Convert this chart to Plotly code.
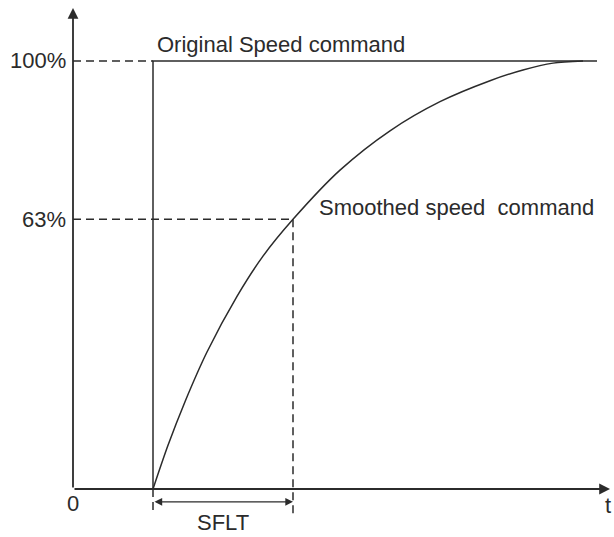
import plotly.graph_objects as go

# Time axis in units of 100 px-equivalents; speed in percent of command
t_step = 0.8            # time at which the original speed command steps to 100 %
sflt = 1.4              # smoothing filter time constant (SFLT)
t_axis_end = 5.37       # end of the time axis arrow
t_cmd_end = 5.24        # end of the drawn command line
v_axis_end = 112.4      # top of the speed axis arrow
levels = [100, 63]      # marked speed levels (%)
level_labels = ["100%", "63%"]
below_axis = -6.1       # how far the dashed guides drop below the time axis
dim_y = -3.0            # height of the SFLT dimension arrow

# Smoothed speed command
curve_t = [0.80, 0.95, 1.12, 1.34, 1.64, 1.90, 2.20, 2.67, 3.17, 3.67, 4.17, 4.50, 4.80, 5.10]
curve_v = [0.0, 10.2, 20.4, 32.0, 45.0, 54.4, 63.0, 74.5, 83.7, 90.5, 95.4, 97.9, 99.5, 100.0]

t63 = t_step + sflt
ink = "#2b2b2b"
font = dict(family="Liberation Sans, Arial, sans-serif", size=22, color=ink)
dash = "8px,5px"

fig = go.Figure()


def line(xs, ys, width=1.5, dashed=False, shape="linear"):
    fig.add_trace(go.Scatter(
        x=xs, y=ys, mode="lines", hoverinfo="skip", showlegend=False,
        line=dict(color=ink, width=width, dash=dash if dashed else "solid",
                  shape=shape, smoothing=0.8),
    ))


# original step command
line([t_step, t_step, t_cmd_end], [0, levels[0], levels[0]])
# smoothed command
line(curve_t, curve_v, width=1.5, shape="spline")
# dashed guides
line([0, t_step], [levels[0], levels[0]], dashed=True)
line([0, t63], [levels[1], levels[1]], dashed=True)
line([t63, t63], [levels[1], below_axis], dashed=True)
line([t_step, t_step], [0, below_axis], dashed=True)

# axes with arrow heads
for (x0, y0, x1, y1) in [(0, 0, 0, v_axis_end), (0, 0, t_axis_end, 0)]:
    fig.add_annotation(x=x1, y=y1, ax=x0, ay=y0, xref="x", yref="y", axref="x", ayref="y",
                       text="", showarrow=True, arrowhead=2, arrowsize=1.2,
                       arrowwidth=1.8, arrowcolor=ink, standoff=0)

# SFLT dimension arrow
fig.add_annotation(x=t63, y=dim_y, ax=t_step, ay=dim_y, xref="x", yref="y", axref="x", ayref="y",
                   text="", showarrow=True, arrowhead=2, arrowside="end+start",
                   arrowsize=1.1, arrowwidth=1.4, arrowcolor=ink, standoff=0, startstandoff=0)

# level labels
for lv, lab in zip(levels, level_labels):
    fig.add_annotation(x=-0.05, y=lv, xref="x", yref="y", text=lab, showarrow=False,
                       xanchor="right", yanchor="middle", font=font)

fig.add_annotation(x=0, y=-3.3, text="0", showarrow=False, xanchor="center",
                   yanchor="middle", font=font)
fig.add_annotation(x=5.35, y=-3.8, text="t", showarrow=False, xanchor="center",
                   yanchor="middle", font=font)
fig.add_annotation(x=(t_step + t63) / 2, y=-7.9, text="SFLT", showarrow=False,
                   xanchor="center", yanchor="middle", font=font)
fig.add_annotation(x=t_step + 0.02, y=103.8, text="Original Speed command", showarrow=False,
                   xanchor="left", yanchor="middle", font=font)
fig.add_annotation(x=t63 + 0.24, y=65.8, text="Smoothed speed\u00a0 command", showarrow=False,
                   xanchor="left", yanchor="middle", font=font)

fig.update_layout(
    width=614, height=537,
    margin=dict(l=0, r=0, t=0, b=0),
    paper_bgcolor="white", plot_bgcolor="white",
    xaxis=dict(range=[-0.73, 5.41], visible=False, fixedrange=True),
    yaxis=dict(range=[-11.215, 114.25], visible=False, fixedrange=True),
)

fig.write_html("out.html")
